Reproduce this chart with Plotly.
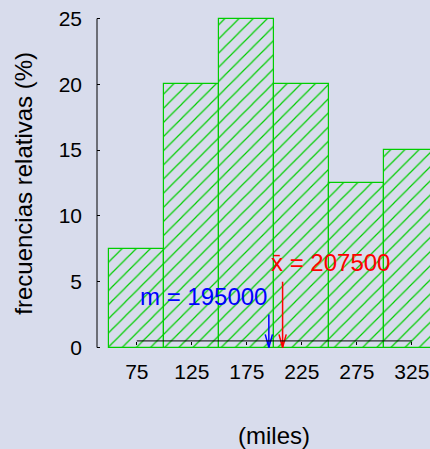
import plotly.graph_objects as go

# Histogram data: class marks (thousands) and relative frequencies (%)
class_marks = [75, 125, 175, 225, 275, 325]
rel_freq = [7.5, 20, 25, 20, 12.5, 15]
bin_width = 50
tick_labels = ["75", "125", "175", "225", "275", "325"]
y_ticks = [0, 5, 10, 15, 20, 25]

# Summary statistics (in miles / thousands)
median_val = 195000
mean_val = 207500
median_arrow_top = 2.5
mean_arrow_top = 5.0

GREEN = "#00cd00"
BG = "#d8dcec"
FONT = "Liberation Sans, Arial, sans-serif"

x_range = [38.8, 341.5]
y_range = [-0.95, 26.03]
axis_y = 0.5  # height where the horizontal axis is drawn

fig = go.Figure()

fig.add_trace(go.Bar(
    x=class_marks,
    y=rel_freq,
    width=[bin_width] * len(class_marks),
    marker=dict(
        color="rgba(0,0,0,0)",
        line=dict(color=GREEN, width=1.2),
        pattern=dict(shape="/", fgcolor=GREEN, bgcolor="rgba(0,0,0,0)",
                     size=10, solidity=0.12, fillmode="replace"),
    ),
    hoverinfo="skip",
    showlegend=False,
))


def arrow(value, top, color):
    xv = value / 1000
    head_dx, head_dy = 3.3, 1.0
    fig.add_trace(go.Scatter(
        x=[xv, xv, None, xv - head_dx, xv, xv + head_dx],
        y=[top, 0, None, head_dy, 0, head_dy],
        mode="lines",
        line=dict(color=color, width=1.5),
        hoverinfo="skip",
        showlegend=False,
    ))


arrow(median_val, median_arrow_top, "#0000ff")
arrow(mean_val, mean_arrow_top, "#ff0000")

# horizontal axis line spanning the class marks
fig.add_shape(type="line", xref="x", yref="y",
              x0=class_marks[0], x1=class_marks[-1], y0=axis_y, y1=axis_y,
              line=dict(color="black", width=1))
# vertical axis line spanning the tick range
fig.add_shape(type="line", xref="paper", yref="y",
              x0=0, x1=0, y0=y_ticks[0], y1=y_ticks[-1],
              line=dict(color="black", width=1))

axis_pos = (axis_y - y_range[0]) / (y_range[1] - y_range[0])

fig.update_layout(
    width=430, height=449,
    margin=dict(l=97, r=0, t=5, b=89),
    paper_bgcolor=BG, plot_bgcolor=BG,
    bargap=0,
    font=dict(family=FONT, color="black"),
    xaxis=dict(
        range=x_range, showgrid=False, zeroline=False, showline=False,
        tickmode="array", tickvals=class_marks, ticktext=tick_labels,
        ticks="outside", ticklen=3, tickcolor="black", tickwidth=1,
        tickfont=dict(size=21), anchor="free", position=axis_pos,
        ticklabelstandoff=9,
    ),
    yaxis=dict(
        range=y_range, showgrid=False, zeroline=False, showline=False,
        tickmode="array", tickvals=y_ticks, ticktext=[str(v) for v in y_ticks],
        ticks="inside", ticklen=3, tickcolor="black", tickwidth=1,
        tickfont=dict(size=21), ticklabelstandoff=14,
    ),
    annotations=[
        dict(text="frecuencias relativas (%)", xref="paper", yref="y",
             x=0, y=12.45, xshift=-73, textangle=-90, showarrow=False,
             xanchor="center", yanchor="middle", font=dict(size=24)),
        dict(text="(miles)", xref="x", yref="paper", x=200, y=0,
             yshift=-75, showarrow=False, xanchor="center", yanchor="middle",
             font=dict(size=24)),
        dict(text=f"m = {median_val}", xref="x", yref="y",
             x=median_val / 1000, y=3.9, showarrow=False,
             xanchor="right", yanchor="middle",
             font=dict(size=24, color="#0000ff")),
        dict(text=f"x\u0304 = {mean_val}", xref="x", yref="y",
             x=median_val / 1000, y=6.45, showarrow=False,
             xanchor="left", yanchor="middle",
             font=dict(size=24, color="#ff0000")),
    ],
)

fig.write_html("out.html")
